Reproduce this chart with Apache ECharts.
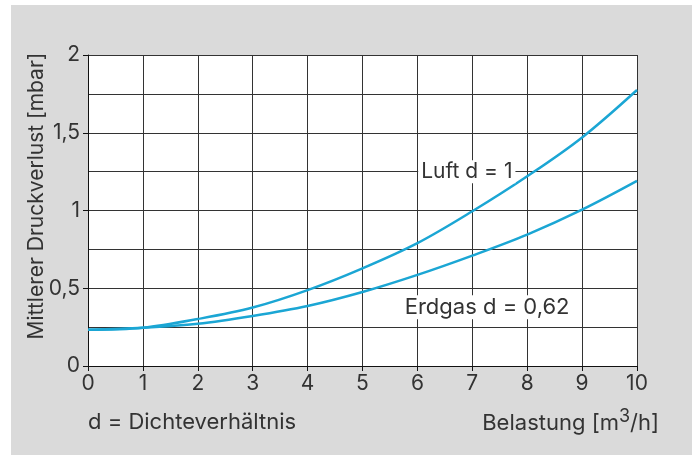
<!DOCTYPE html>
<html><head><meta charset="utf-8">
<script src="https://cdn.jsdelivr.net/npm/echarts@6/dist/echarts.min.js"></script>
<style>
html,body{margin:0;padding:0;background:#fff;}
#bg{position:absolute;left:11px;top:5px;width:681px;height:450px;background:#dadada;}
#c{position:absolute;left:0;top:0;width:694px;height:455px;}
</style></head>
<body>
<div id="bg"></div>
<div id="c"></div>
<script>
const xVals = [0, 1, 2, 3, 4, 5, 6, 7, 8, 9, 10];
const luft = [0.233, 0.246, 0.302, 0.376, 0.488, 0.628, 0.79, 0.995, 1.22, 1.47, 1.775];
const erdgas = [0.233, 0.246, 0.272, 0.322, 0.386, 0.476, 0.586, 0.71, 0.845, 1.005, 1.19];
const yAxisTitle = 'Mittlerer Druckverlust [mbar]';
const luftLabel = 'Luft d = 1';
const erdgasLabel = 'Erdgas d = 0,62';
const noteText = 'd = Dichteverhältnis';

const FONT = 'Inter, "Noto Sans", sans-serif';
const TXT = '#333';
const LINE = '#1ba6d4';

const chart = echarts.init(document.getElementById('c'), null, {renderer: 'canvas'});
chart.setOption({
  backgroundColor: 'transparent',
  animation: false,
  textStyle: {fontFamily: FONT},
  grid: {left: 88, right: 57, top: 55, bottom: 89, show: true, backgroundColor: '#fff', borderWidth: 0},
  xAxis: {
    type: 'value', min: 0, max: 10, interval: 1,
    axisLine: {show: true, onZero: false, lineStyle: {color: '#111', width: 1}},
    axisTick: {show: true, length: 5, lineStyle: {color: '#111'}},
    axisLabel: {color: TXT, fontSize: 21, margin: 7, fontFamily: FONT},
    splitLine: {show: true, lineStyle: {color: '#333', width: 1}}
  },
  yAxis: {
    type: 'value', min: 0, max: 2, interval: 0.5,
    axisLine: {show: true, lineStyle: {color: '#111', width: 1}},
    axisTick: {show: true, length: 5, lineStyle: {color: '#111'}},
    axisLabel: {color: TXT, fontSize: 21, margin: 8, fontFamily: FONT,
      formatter: v => String(v).replace('.', ',')},
    splitLine: {show: true, lineStyle: {color: '#333', width: 1}},
    minorTick: {show: false, splitNumber: 2},
    minorSplitLine: {show: true, lineStyle: {color: '#333', width: 1}}
  },
  series: [
    {
      type: 'line', name: 'Luft', data: xVals.map((x, i) => [x, luft[i]]),
      smooth: 0.35, showSymbol: false, lineStyle: {color: LINE, width: 2.5},
      markPoint: {
        symbolSize: 0,
        data: [{coord: [6.9, 1.25], name: luftLabel}],
        label: {show: true, position: 'inside', formatter: luftLabel, color: TXT, fontSize: 21,
          fontFamily: FONT, backgroundColor: '#fff', padding: [1, 3]}
      }
    },
    {
      type: 'line', name: 'Erdgas', data: xVals.map((x, i) => [x, erdgas[i]]),
      smooth: 0.35, showSymbol: false, lineStyle: {color: LINE, width: 2.5},
      markPoint: {
        symbolSize: 0,
        data: [{coord: [7.27, 0.378], name: erdgasLabel}],
        label: {show: true, position: 'inside', formatter: erdgasLabel, color: TXT, fontSize: 22,
          fontFamily: FONT, backgroundColor: '#fff', padding: [1, 3]}
      }
    }
  ],
  graphic: [
    {type: 'text', x: 37, y: 196, rotation: Math.PI / 2,
      style: {text: yAxisTitle, fill: TXT, font: '21px ' + FONT, align: 'center', verticalAlign: 'middle'}},
    {type: 'text', left: 88, top: 411, style: {text: noteText, fill: TXT, font: '22px ' + FONT}},
    {type: 'text', right: 35, top: 408, style: {
      text: '{a|Belastung [m}{b|3}{a|/h]}', fill: TXT,
      rich: {
        a: {fontSize: 22, fontFamily: FONT, color: TXT, lineHeight: 26, verticalAlign: 'bottom'},
        b: {fontSize: 18, fontFamily: FONT, color: TXT, lineHeight: 26, verticalAlign: 'top', padding: [0, 0, 5, 0]}
      }
    }}
  ]
});
</script>
</body></html>
